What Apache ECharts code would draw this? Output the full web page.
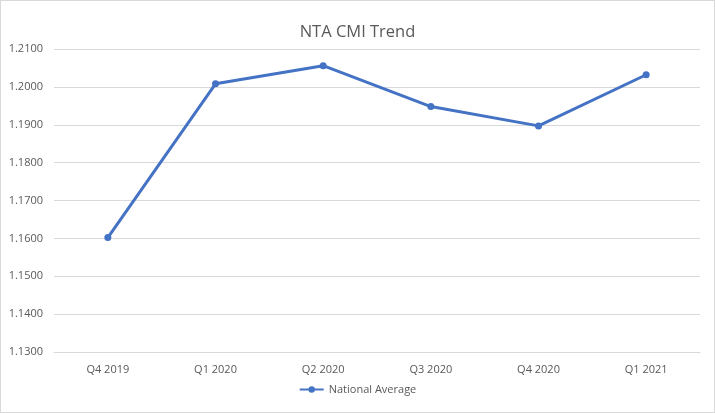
<!DOCTYPE html>
<html><head><meta charset="utf-8">
<script src="https://cdn.jsdelivr.net/npm/echarts@6/dist/echarts.min.js"></script>
<style>html,body{margin:0;padding:0;background:#fff}
#c{position:absolute;left:0;top:0;width:713px;height:411px;border:1px solid #d9d9d9}</style>
</head><body><div id="c"></div>
<script>
const categories = ['Q4 2019','Q1 2020','Q2 2020','Q3 2020','Q4 2020','Q1 2021'];
const seriesName = 'National Average';
const values = [1.1602, 1.2008, 1.2056, 1.1948, 1.1897, 1.2032];
const title = 'NTA CMI Trend';
const chart = echarts.init(document.getElementById('c'));
const font = '"Open Sans", "Liberation Sans", sans-serif';
chart.setOption({
  animation:false,
  title:{text:title,left:'center',top:18,textStyle:{fontFamily:font,fontSize:16.5,fontWeight:'normal',color:'#595959'}},
  grid:{left:53,right:14,top:48,bottom:60},
  legend:{bottom:12,left:'center',itemWidth:24,itemHeight:8,itemGap:4,
    textStyle:{fontFamily:font,fontSize:11,color:'#595959'},data:[seriesName]},
  xAxis:{type:'category',data:categories,boundaryGap:true,
    axisLine:{lineStyle:{color:'#d9d9d9'}},axisTick:{show:false},
    axisLabel:{fontFamily:font,fontSize:11,color:'#595959',margin:12}},
  yAxis:{type:'value',min:1.13,max:1.21,interval:0.01,
    axisLine:{show:false},axisTick:{show:false},
    splitLine:{lineStyle:{color:'#d9d9d9'}},
    axisLabel:{fontFamily:font,fontSize:11,color:'#595959',margin:11,formatter:v=>v.toFixed(4)}},
  series:[{name:seriesName,type:'line',data:values,symbol:'circle',symbolSize:7,
    lineStyle:{color:'#4472C4',width:3},itemStyle:{color:'#4472C4'}}]
});
</script></body></html>
